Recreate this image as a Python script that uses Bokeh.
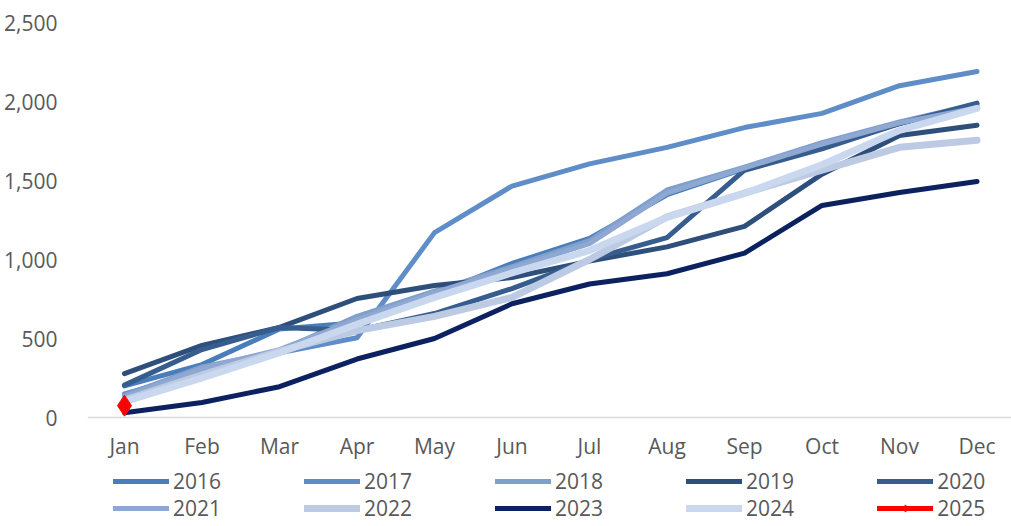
from bokeh.plotting import figure
from bokeh.models import Range1d, Legend, LegendItem, NumeralTickFormatter, FixedTicker
from bokeh.embed import file_html
from bokeh.resources import INLINE

months = ["Jan", "Feb", "Mar", "Apr", "May", "Jun", "Jul", "Aug", "Sep", "Oct", "Nov", "Dec"]
years = ["2016", "2017", "2018", "2019", "2020", "2021", "2022", "2023", "2024", "2025"]

v2016 = [200, 335, 560, 600, 780, 975, 1133, 1410, 1575, 1735, 1860, 1975]
v2017 = [150, 290, 410, 505, 1170, 1465, 1605, 1710, 1835, 1925, 2100, 2190]
v2018 = [140, 320, 420, 640, 800, 955, 1120, 1440, 1585, 1740, 1870, 1985]
v2019 = [278, 456, 570, 753, 835, 886, 990, 1080, 1210, 1540, 1785, 1850]
v2020 = [205, 430, 570, 551, 658, 816, 1000, 1139, 1565, 1700, 1860, 1990]
v2021 = [130, 310, 430, 620, 790, 945, 1100, 1420, 1580, 1730, 1865, 1960]
v2022 = [110, 270, 420, 550, 640, 760, 1000, 1270, 1420, 1565, 1710, 1755]
v2023 = [30, 95, 195, 370, 500, 720, 845, 910, 1040, 1342, 1424, 1494]
v2024 = [100, 250, 410, 590, 760, 915, 1057, 1266, 1418, 1600, 1817, 1956]
v2025 = [75]

series = [v2016, v2017, v2018, v2019, v2020, v2021, v2022, v2023, v2024, v2025]
colors = ["#4A7EBB", "#5F8DC8", "#7F9FCC", "#2E4F7B", "#375D8E",
          "#8EA8D2", "#BCCAE3", "#0B2160", "#C9D8EE", "#FF0000"]
widths = [5, 5, 5, 5, 5, 5, 7, 5, 7, 5]

FONT = "Open Sans"
TXT = "#595959"

# frame spans the whole area under the top border; value 0 sits 109 px above the bottom
Y_MAX = 2500
Y_MIN = -Y_MAX * 109 / 395

p = figure(width=1011, height=526, output_backend="svg", toolbar_location=None,
           x_range=Range1d(-0.4774, 11.445), y_range=Range1d(Y_MIN, Y_MAX),
           min_border_left=87, min_border_right=0, min_border_top=22, min_border_bottom=0)
p.outline_line_color = None
p.grid.visible = False

p.xaxis.fixed_location = 0
p.xaxis.ticker = FixedTicker(ticks=list(range(len(months))))
p.xaxis.major_label_overrides = {i: m for i, m in enumerate(months)}
p.xaxis.axis_line_color = "#D9D9D9"
p.xaxis.axis_line_width = 1.5
p.xaxis.major_tick_line_color = None
p.xaxis.minor_tick_line_color = None
p.xaxis.major_label_standoff = 8

p.yaxis.ticker = FixedTicker(ticks=[0, 500, 1000, 1500, 2000, 2500])
p.yaxis.formatter = NumeralTickFormatter(format="0,0")
p.yaxis.axis_line_color = None
p.yaxis.major_tick_line_color = None
p.yaxis.minor_tick_line_color = None
p.yaxis.major_label_standoff = 24

for ax in (p.xaxis, p.yaxis):
    ax.major_label_text_font = FONT
    ax.major_label_text_font_size = "21px"
    ax.major_label_text_color = TXT

items = []
for yr, vals, c, w in zip(years, series, colors, widths):
    xs = list(range(len(vals)))
    r = p.line(xs, vals, line_color=c, line_width=w, line_join="round", line_cap="round")
    rs = [r]
    if yr == "2025":
        rs.append(p.scatter(xs, vals, marker="diamond", size=21, fill_color=c, line_color=c))
    items.append(LegendItem(label=yr, renderers=rs))

def make_legend(its, y):
    return Legend(items=its, orientation="horizontal", location=(26, y),
                  glyph_width=56, glyph_height=18, label_width=40, label_height=18,
                  label_standoff=4, spacing=83, padding=0, margin=0,
                  border_line_color=None, background_fill_alpha=0,
                  label_text_font=FONT, label_text_font_size="21px", label_text_color=TXT)

p.add_layout(make_legend(items[:5], 31), "center")
p.add_layout(make_legend(items[5:], 4), "center")

open("out.html", "w").write(file_html(p, INLINE))
